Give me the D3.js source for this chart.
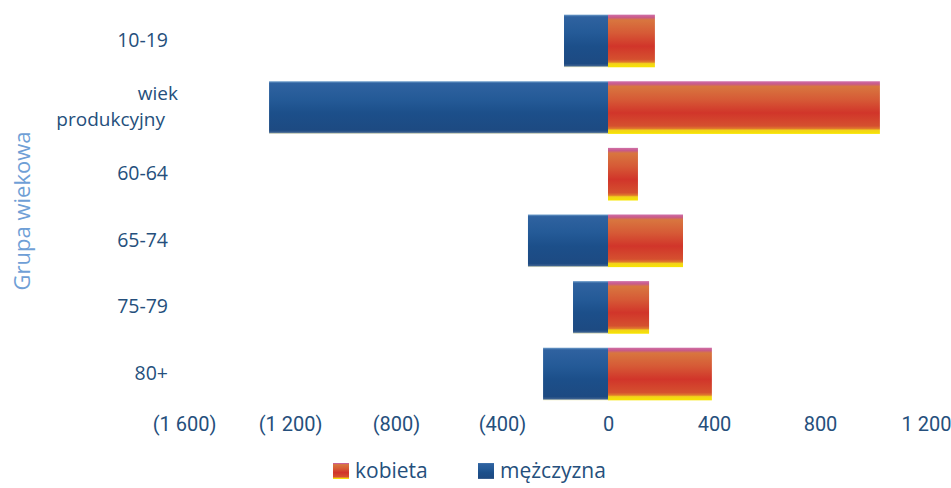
<!DOCTYPE html>
<html><head><meta charset="utf-8">
<script src="https://cdn.jsdelivr.net/npm/d3@7"></script>
<style>
html,body{margin:0;padding:0;background:#fff;}
svg{display:block;}
</style></head>
<body>
<svg id="chart" width="951" height="488"></svg>
<script>
const categories = ["10-19", "wiek produkcyjny", "60-64", "65-74", "75-79", "80+"];
const male = [-166, -1279, 0, -302, -132, -245];   // mężczyzna
const female = [177, 1026, 113, 283, 155, 392];     // kobieta
const tickValues = [-1600, -1200, -800, -400, 0, 400, 800, 1200];
const tickLabels = ["(1 600)", "(1 200)", "(800)", "(400)", "0", "400", "800", "1 200"];
const seriesNames = ["kobieta", "mężczyzna"];

const svg = d3.select("#chart");
const x = d3.scaleLinear().domain([-1600, 1200]).range([184, 926]);
const y = d3.scaleBand().domain(categories).range([8, 407]).paddingInner(0.21).paddingOuter(0.1);

const defs = svg.append("defs");
const gm = defs.append("linearGradient").attr("id", "gMale").attr("x1",0).attr("y1",0).attr("x2",0).attr("y2",1);
[[0,"#6f9ecb"],[0.04,"#2f62a0"],[0.35,"#245a97"],[0.6,"#1c4f8a"],[0.93,"#1d4a82"],[0.97,"#3a5f8f"],[1,"#f3f0c8"]]
  .forEach(([o,c])=>gm.append("stop").attr("offset",o).attr("stop-color",c));
const gf = defs.append("linearGradient").attr("id", "gFemale").attr("x1",0).attr("y1",0).attr("x2",0).attr("y2",1);
[[0,"#d070a8"],[0.05,"#c85a8a"],[0.1,"#d8763f"],[0.35,"#d65a36"],[0.6,"#d1352a"],[0.85,"#d5502f"],[0.9,"#e07a2c"],[0.93,"#f2d21a"],[1,"#f7e600"]]
  .forEach(([o,c])=>gf.append("stop").attr("offset",o).attr("stop-color",c));

const textColor = "#254f7c";

// bars
svg.append("g").selectAll("rect").data(categories).join("rect")
  .attr("x", (d,i)=>x(male[i])).attr("y", d=>y(d))
  .attr("width", (d,i)=>x(0)-x(male[i])).attr("height", y.bandwidth())
  .attr("fill", "url(#gMale)");
svg.append("g").selectAll("rect").data(categories).join("rect")
  .attr("x", x(0)).attr("y", d=>y(d))
  .attr("width", (d,i)=>x(female[i])-x(0)).attr("height", y.bandwidth())
  .attr("fill", "url(#gFemale)");

// y labels
const yl = svg.append("g").attr("font-family","'Open Sans', sans-serif").attr("font-size",19.5).attr("font-weight",500).attr("fill",textColor);
categories.forEach((c,i)=>{
  const cy = y(c) + y.bandwidth()/2;
  if (c === "wiek produkcyjny") {
    yl.append("text").attr("x",178).attr("y",cy-8).attr("font-size",19).attr("text-anchor","end").text("wiek");
    yl.append("text").attr("x",165).attr("y",cy+18).attr("font-size",19).attr("text-anchor","end").text("produkcyjny");
  } else {
    yl.append("text").attr("x",168).attr("y",cy+6).attr("text-anchor","end").text(c);
  }
});

// x axis
const xAxis = d3.axisBottom(x).tickValues(tickValues).tickFormat((d,i)=>tickLabels[i]).tickSize(0).tickPadding(0);
const ax = svg.append("g").attr("transform","translate(0,412)").call(xAxis);
ax.select(".domain").remove();
ax.selectAll("text").attr("font-family","'Liberation Sans Narrow', 'Roboto', sans-serif").attr("font-size",20).attr("fill",textColor).attr("dy","0.95em");

// y title
svg.append("text").attr("transform","translate(30,211) rotate(-90)").attr("text-anchor","middle")
  .attr("font-family","'Open Sans', sans-serif").attr("font-size",22).attr("fill","#6f9fd6").text("Grupa wiekowa");

// legend
const leg = svg.append("g");
const legX = [333, 478];
seriesNames.forEach((n,i)=>{
  leg.append("rect").attr("x",legX[i]).attr("y",463).attr("width",16).attr("height",16).attr("fill", i===0?"url(#gFemale)":"url(#gMale)");
  leg.append("text").attr("x",legX[i]+22).attr("y",478).attr("font-family","'Open Sans', sans-serif").attr("font-size",21).attr("font-weight",500).attr("fill",textColor).text(n);
});
</script>
</body></html>
